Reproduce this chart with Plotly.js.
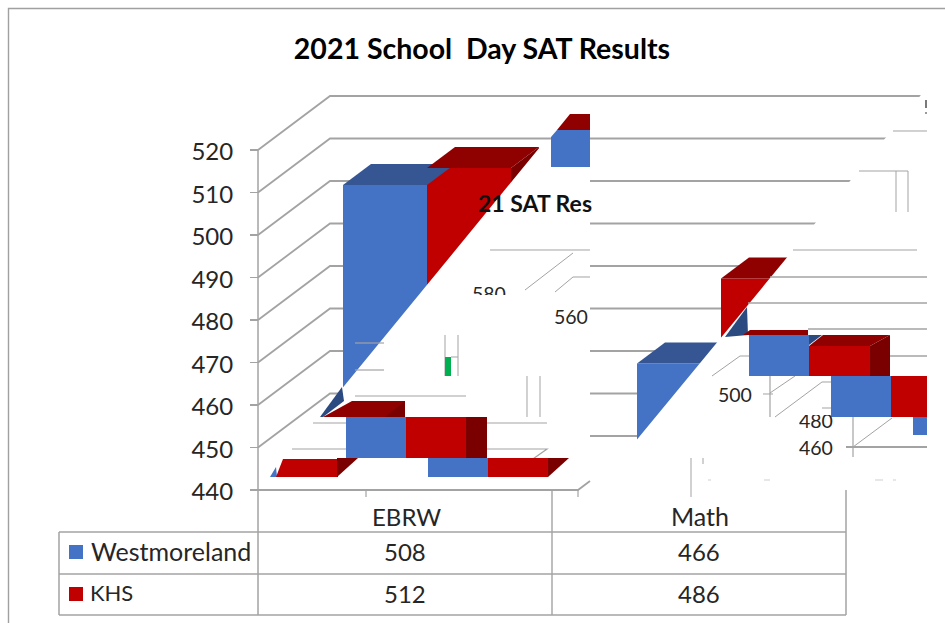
<!DOCTYPE html>
<html>
<head>
<meta charset="utf-8">
<script src="https://cdn.plot.ly/plotly-3.0.1.min.js"></script>
<style>html,body{margin:0;padding:0;background:#fff}</style>
</head>
<body>
<div id="chart" style="width:945px;height:623px"></div>
<script>
// ---- chart values ----
const categories = ['EBRW', 'Math'];
const seriesNames = ['Westmoreland', 'KHS'];
const westmoreland = [508, 466];
const khs = [512, 486];
const yTicks = [440, 450, 460, 470, 480, 490, 500, 510, 520];
const chartTitle = '2021 School\u00a0 Day SAT Results';

// ---- colours ----
const BLUE = '#4472c4', BLUE_TOP = '#355693', BLUE_SIDE = '#2b4a80';
const RED = '#c00000', RED_TOP = '#8f0000', RED_SIDE = '#7a0000';
const GRID = '#a3a3a3', INK = '#262626';
const FONT = 'Lato, Carlito, sans-serif';

// ---- page helpers (margins are 0, so paper fractions map to the page) ----
const W = 945, H = 623;
const fx = x => x / W, fy = y => 1 - y / H;
const path = pts => 'M' + pts.map(p => fx(p[0]).toFixed(5) + ' ' + fy(p[1]).toFixed(5)).join('L');
const poly = (pts, fill) => ({type:'path', xref:'paper', yref:'paper', layer:'above',
  path: path(pts) + 'Z', fillcolor: fill, line:{width:0}});
const rect = (x0, y0, x1, y1, fill) => poly([[x0,y0],[x1,y0],[x1,y1],[x0,y1]], fill);
const line = (pts, width, color, layer) => ({type:'path', xref:'paper', yref:'paper', layer: layer || 'above',
  path: path(pts), fillcolor:'rgba(0,0,0,0)', line:{color: color || GRID, width: width || 1.5}});

// ---- axis geometry ----
const BAR_W = 84 / 294;           // bar width in category units
const DX = 28 / 294, DY = 21 / 4.25; // 3D depth in axis units

// ---- 3D faces computed from the values, in axis coordinates ----
function face(pts, fill) {
  return {type:'path', xref:'x', yref:'y', layer:'above',
    path: 'M' + pts.map(p => p[0] + ' ' + p[1]).join('L') + 'Z', fillcolor: fill, line:{width:0}};
}
const faces = [];
categories.forEach((c, i) => {
  const b = westmoreland[i], r = khs[i];
  faces.push(face([[i-BAR_W,b],[i-BAR_W+DX,b+DY],[i+DX,b+DY],[i,b]], BLUE_TOP));
  faces.push(face([[i,r],[i+DX,r+DY],[i+BAR_W+DX,r+DY],[i+BAR_W,r]], RED_TOP));
  faces.push(face([[i+BAR_W,r],[i+BAR_W+DX,r+DY],[i+BAR_W+DX,440+DY],[i+BAR_W,440]], RED_SIDE));
});

// ---- perspective walls (below the bars) ----
const walls = [];
yTicks.forEach((v, k) => {
  const y = 490 - k * 42.5;
  if (k > 0) {
    walls.push(line([[258, y], [330, y - 54], [930, y - 54]], 1.8, GRID, 'below'));
  } else {
    walls.push(line([[330, y - 54], [930, y - 54]], 1.8, GRID, 'below'));
  }
});

// ---- the diagonal tear in the source image ----
const tear = [
  poly([[258,489],[340,391],[540,147],[590,147],[590,489]], '#ffffff'),
  poly([[590,439.5],[637,439.5],[925,90],[945,90],[945,500],[590,500]], '#ffffff')
];

// ---- debris of the source image: displaced tiles, not data marks ----
const debris = [
  // thin ghost gridlines
  line([[355,343],[384,343]],1.2), line([[355,370],[384,370]],1.2), line([[355,396],[466,396]],1.2),
  line([[313,423],[547,423]],1.2), line([[292,449],[547,449],[530,461]],1.2),
  line([[490,250],[590,250]],1), line([[525,290],[573,253]],1), line([[555,292],[573,277],[590,277]],1),
  line([[445,335],[445,376]],1), line([[458,335],[458,376]],1), line([[451,357],[458,357]],1),
  line([[527,376],[527,417]],1), line([[540,376],[540,417]],1),
  line([[793,250],[917,250]],1.2), line([[770,277],[927,277]],1.6), line([[748,303],[927,303]],1.6),
  line([[808,329],[927,329]],1.6), line([[890,356],[927,356]],1.6),
  line([[712,376],[740,356],[749,356]],1), line([[775,417],[822,382],[831,382]],1),
  line([[822,408],[831,408]],1), line([[853,447],[892,418]],1), line([[846,447],[927,447]],1.8),
  line([[853,417],[853,457]],1.2), line([[770,376],[770,417]],1.2),
  line([[763,394],[773,394]],1), line([[770,393],[795,376]],1),
  line([[893,131],[927,131]],1), line([[859,171],[908,171],[908,212]],1), line([[896,171],[896,212]],1),
  line([[691,458],[691,497]],1), line([[703,458],[703,464]],1),
  rect(925,100,927,108,'#7a7a7a'), rect(925,112,927,114,'#9a9a9a'),
  line([[875,480],[883,480]],1,'#cfcfcf'), line([[893,480],[896,480]],1,'#cfcfcf'),
  line([[764,480],[770,480]],1,'#cfcfcf'), line([[708,480],[711,480]],1,'#cfcfcf'),
  // top-right tile
  rect(551,130,590,167,BLUE), poly([[551,137],[557,130],[551,130]],'#ffffff'),
  poly([[557,130],[570,114],[590,114],[590,130]],RED_TOP),
  // tile row one
  poly([[320,417],[342,387],[344,401],[323,417]],BLUE_SIDE),
  poly([[323,417],[352,401],[405,401],[405,417]],RED_TOP),
  poly([[385,417],[405,401],[405,417]],RED_SIDE),
  rect(346,417,406,458,BLUE), rect(406,417,466,458,RED), rect(466,417,487,458,RED_SIDE),
  // tile row two
  poly([[270,477],[276,467],[277,477]],BLUE),
  poly([[276,477],[283,459],[338,459],[338,477]],RED),
  poly([[337,477],[358,458],[337,458]],RED_SIDE),
  rect(428,458,488,477,BLUE), rect(488,458,548,477,RED),
  poly([[548,477],[569,458],[548,458]],RED_SIDE),
  // green sliver
  rect(445,357,451,376,'#00b050'),
  // right tiles
  poly([[725,337],[747,307],[748,335]],BLUE_SIDE),
  poly([[743,335],[750,330],[808,330],[808,335]],RED_TOP),
  rect(749,335,809,376,BLUE),
  poly([[809,335],[822,335],[809,345]],BLUE_SIDE),
  poly([[809,346],[823,335],[890,335],[870,346]],RED_TOP),
  rect(809,346,870,376,RED),
  poly([[870,346],[890,335],[890,376],[870,376]],RED_SIDE),
  rect(831,376,891,417,BLUE), rect(891,376,927,417,RED),
  rect(913,417,927,435,BLUE)
];

// ---- front floor and data table frame ----
const frame = [
  line([[8.5,623],[8.5,8.5],[945,8.5]],1.4,'#a0a0a0'),
  line([[258,150],[258,615]],1.5),
  line([[258,490],[578,490],[590,481]],1.8),
  line([[366,490],[366,497]],1.2), line([[578,490],[578,497]],1.2),
  line([[552,490],[552,615]],1.4), line([[846,490],[846,615]],1.5),
  line([[59,532],[846,532]],1.3), line([[59,574],[846,574]],1.3), line([[59,615],[846,615]],1.3),
  line([[59,532],[59,615]],1.5),
  rect(69,545,83,559,BLUE), rect(69,587,83,601,RED)
];

// ---- text ----
function note(text, x, y, size, opts) {
  return Object.assign({xref:'paper', yref:'paper', x:fx(x), y:fy(y), text, showarrow:false,
    xanchor:'center', yanchor:'middle', font:{family:FONT, size, color:INK}}, opts || {});
}
const colX = [406, 700];
const headSize = [24, 25];
const cells = [];
categories.forEach((c, i) => {
  cells.push(note(c, colX[i], 516, headSize[i]));
  cells.push(note(String(westmoreland[i]), colX[i] - 1, 551, 24));
  cells.push(note(String(khs[i]), colX[i] - 1, 593, 24));
});
cells.push(note(seriesNames[0], 89, 551, 25, {xanchor:'left'}));
cells.push(note(seriesNames[1], 88, 592, 22, {xanchor:'left'}));
const ghostText = [
  note('21 SAT Res', 535, 203, 23, {font:{family:FONT, size:23, color:'#111111', weight:700}}),
  note('580', 489, 280, 19.5, {yanchor:'top', height:13, valign:'top'}),
  note('560', 571, 316, 19.5),
  note('500', 735, 395, 19.5),
  note('480', 816, 434, 19.5, {yanchor:'bottom', height:17, valign:'bottom'}),
  note('460', 816, 447, 19.5)
];

// ---- traces: the bars go through the axes ----
const barBase = {type:'bar', x:[0,1], width:BAR_W, hoverinfo:'skip', showlegend:false};
const data = [
  Object.assign({}, barBase, {name:seriesNames[0], y:westmoreland, offset:-BAR_W, marker:{color:BLUE, line:{width:0}}}),
  Object.assign({}, barBase, {name:seriesNames[1], y:khs, offset:0, marker:{color:RED, line:{width:0}}}),
  {type:'scatter', mode:'none', x:[0,1], y:[440,520], yaxis:'y2', xaxis:'x', hoverinfo:'skip', showlegend:false}
];

const layout = {
  width:W, height:H, autosize:false,
  margin:{l:0,r:0,t:0,b:0,pad:0},
  paper_bgcolor:'#ffffff', plot_bgcolor:'rgba(0,0,0,0)',
  barmode:'overlay', showlegend:false,
  title:{text:chartTitle, x:fx(482), y:fy(49), xanchor:'center', yanchor:'middle',
         font:{family:FONT, size:28.5, color:'#000000', weight:700}},
  xaxis:{type:'linear', range:[-0.5,1.5], domain:[fx(280), fx(868)], visible:false, fixedrange:true},
  yaxis:{type:'linear', range:[440,520], domain:[fy(474), fy(134)], visible:false, fixedrange:true},
  yaxis2:{type:'linear', range:[440,520], domain:[fy(490), fy(150)], anchor:'free', position:fx(258), side:'left',
    tickmode:'array', tickvals:yTicks, ticktext:yTicks.map(String),
    ticks:'outside', ticklen:8, tickcolor:GRID, tickwidth:1.4, showgrid:false, zeroline:false,
    showline:false, ticklabelstandoff:12, ticklabelshift:2, tickfont:{family:FONT, size:24, color:INK}, fixedrange:true},
  shapes:[].concat(walls, faces, tear, debris, frame),
  annotations:[].concat(cells, ghostText)
};
Plotly.newPlot('chart', data, layout, {displayModeBar:false, staticPlot:true});
</script>
</body>
</html>
